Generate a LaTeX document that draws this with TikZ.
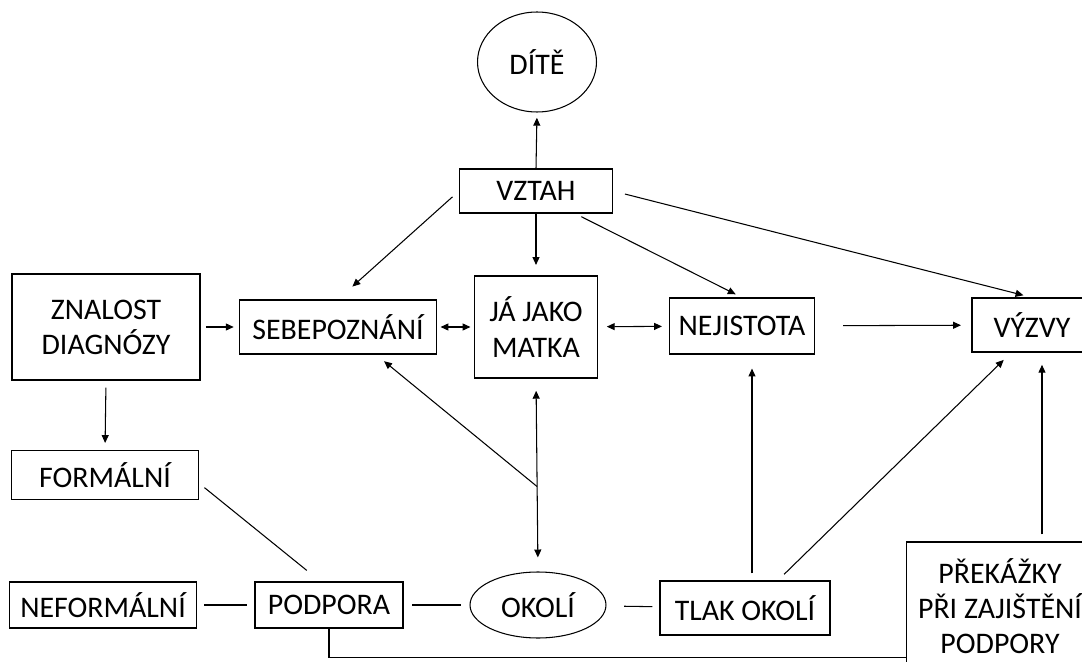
\documentclass[tikz,border=0pt]{standalone}
\usepackage{fontspec}
\setmainfont{Carlito}
\usetikzlibrary{arrows.meta, shapes.geometric, calc}

\begin{document}
\begin{tikzpicture}[
    x=0.02cm, y=-0.02cm,
    line width=0.6pt,
    >={Triangle[length=4.5pt,width=4pt]},
    box/.style={rectangle, draw, align=center, inner sep=0pt, font=\fontsize{17}{20}\selectfont},
    oval/.style={ellipse, draw, inner sep=0pt, font=\fontsize{17}{20}\selectfont}
]
  \clip (0,0) rectangle (1082,662);

  % Top row
  \node[oval, minimum width=2.38cm, minimum height=2cm] (dite) at (537,62) {DÍTĚ};
  \node[box, minimum width=3.06cm, minimum height=0.88cm] (vztah) at (536,191) {VZTAH};

  % Middle row
  \node[box, minimum width=3.76cm, minimum height=2.12cm] (znalost) at (106,327) {ZNALOST\\DIAGNÓZY};
  \node[box, minimum width=3.94cm, minimum height=1.08cm] (sebe) at (338,327) {SEBEPOZNÁNÍ};
  \node[box, minimum width=2.46cm, minimum height=2.04cm] (matka) at (536,327) {JÁ JAKO\\MATKA};
  \node[box, minimum width=2.9cm, minimum height=1.12cm] (nejistota) at (742,326) {NEJISTOTA};
  \node[box, minimum width=2.4cm, minimum height=1.08cm] (vyzvy) at (1032,325) {VÝZVY};

  % Bottom rows
  \node[box, minimum width=3.74cm, minimum height=0.98cm] (formalni) at (105,475) {FORMÁLNÍ};
  \node[box, minimum width=3.74cm, minimum height=0.92cm] (neformalni) at (103,605) {NEFORMÁLNÍ};
  \node[box, minimum width=2.96cm, minimum height=0.92cm] (podpora) at (329,605) {PODPORA};
  \node[oval, minimum width=2.72cm, minimum height=1.32cm] (okoli) at (538,605) {OKOLÍ};
  \node[box, minimum width=3.4cm, minimum height=1.08cm] (tlak) at (745,608) {TLAK OKOLÍ};
  \node[box, minimum width=3.76cm, minimum height=2.56cm] (prekazky) at (1000,606) {PŘEKÁŽKY\\PŘI ZAJIŠTĚNÍ\\PODPORY};

  % From VZTAH
  \draw[->, shorten >=3pt] (vztah.north) -- (dite.south);
  \draw[->, shorten <=5pt, shorten >=11pt] (vztah.west) -- (sebe.north);
  \draw[->, shorten >=6pt] (vztah.south) -- (matka.north);
  \draw[->, shorten <=4pt, shorten >=4pt] (vztah.-30) -- (nejistota.north);
  \draw[->, shorten <=7pt, shorten >=5pt] (vztah.east) -- (vyzvy.north);

  % Middle row
  \draw[->, shorten <=3pt, shorten >=3pt] (znalost) -- (sebe);
  \draw[->, shorten <=4pt, shorten >=4pt] (znalost.south) -- (formalni.north);
  \draw[<->, shorten <=2pt, shorten >=2pt] (sebe) -- (matka);
  \draw[<->, shorten <=5pt, shorten >=4pt] (matka) -- (nejistota);
  \draw[->, shorten <=16pt, shorten >=6pt] (nejistota) -- (vyzvy);

  % OKOLI
  \draw[<->, shorten <=7pt, shorten >=8pt] (matka.south) -- (okoli.north);
  \coordinate (branch) at ($(matka.south)!0.56!(okoli.north)$);
  \draw[->, shorten >=6pt] (branch) -- (sebe.-36);
  \draw[->, shorten <=4pt, shorten >=8pt] ([xshift=0.14cm]tlak.north) -- ([xshift=0.14cm]tlak.north |- nejistota.south);
  \draw[->, shorten <=5pt, shorten >=6pt] (tlak.40) -- (vyzvy.-127);
  \draw[->, shorten <=4pt, shorten >=7pt] ([xshift=0.84cm]prekazky.north) -- ([xshift=0.84cm]prekazky.north |- vyzvy.south);

  % Lines without arrows
  \draw[shorten <=4pt, shorten >=10pt] (formalni.-5) -- (podpora.110);
  \draw[shorten <=4pt, shorten >=4pt] (neformalni) -- (podpora);
  \draw[shorten <=5pt, shorten >=5pt] (podpora) -- (okoli);
  \draw[shorten <=10pt, shorten >=4pt] (okoli) -- (tlak);
  \draw (podpora.south) |- ($(prekazky.south west)+(0,-13)$);
\end{tikzpicture}
\end{document}
